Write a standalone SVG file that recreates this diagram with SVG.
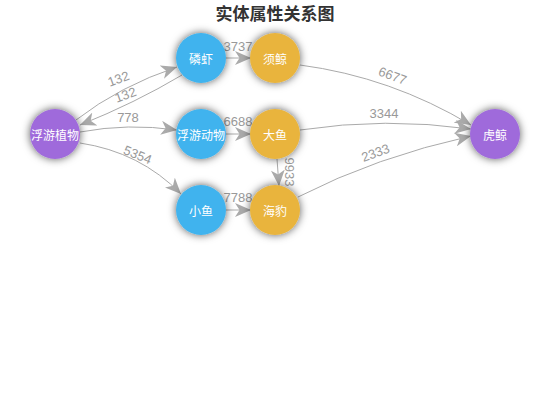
<svg xmlns="http://www.w3.org/2000/svg" width="550" height="420" viewBox="0 0 550 420">
<defs>
<filter id="sh" x="-50%" y="-50%" width="200%" height="200%">
<feDropShadow dx="0" dy="0" stdDeviation="4.5" flood-color="#000" flood-opacity="0.65"/>
</filter>
<marker id="arr" markerUnits="userSpaceOnUse" markerWidth="17" markerHeight="14" refX="16" refY="7" orient="auto">
<path d="M0,0 L16,7 L0,14 L4.5,7 Z" fill="#aaa"/>
</marker>
<style>
.e{fill:none;stroke:#aaa;stroke-width:1;marker-end:url(#arr)}
.el{font-family:"Liberation Sans",Arial,sans-serif;font-size:13px;fill:#999;text-anchor:middle}
.n circle{filter:url(#sh)}
.n text{font-family:"Noto Sans CJK SC",sans-serif;font-size:12px;fill:#fff;text-anchor:middle;dominant-baseline:central}
.b{fill:#40b3ee}.y{fill:#e9b43c}.p{fill:#9f6bdb}
.t{font-family:"Noto Sans CJK SC",sans-serif;font-size:17px;font-weight:bold;fill:#333;text-anchor:middle}
</style>
</defs>
<rect width="550" height="420" fill="#fff"/>
<text class="t" x="275" y="20">实体属性关系图</text>
<g id="edges">
<path class="e" d="M76,120 Q120,86 177,67"/>
<path class="e" d="M182,75 Q135,103 80,125"/>
<path class="e" d="M80,132 Q128,123 177,130"/>
<path class="e" d="M80,143 Q140,152 181,194"/>
<path class="e" d="M226,58 L251,58"/>
<path class="e" d="M226,134 L251,134"/>
<path class="e" d="M226,210 L251,210"/>
<path class="e" d="M277,159 L279,186"/>
<path class="e" d="M300,65 Q391,77 471,125"/>
<path class="e" d="M300,130 Q385,117 471,129"/>
<path class="e" d="M298,197 Q376,157 471,136"/>
<text class="el" transform="translate(120,83) rotate(-20)">132</text>
<text class="el" transform="translate(127,99) rotate(-20)">132</text>
<text class="el" x="128" y="122">778</text>
<text class="el" transform="translate(136,159) rotate(22)">5354</text>
<text class="el" x="238" y="51">3737</text>
<text class="el" x="238" y="126">6688</text>
<text class="el" x="238" y="202">7788</text>
<text class="el" transform="translate(285,172) rotate(90)">9933</text>
<text class="el" transform="translate(391,80) rotate(20)">6677</text>
<text class="el" x="384" y="118">3344</text>
<text class="el" transform="translate(377,157) rotate(-20)">2333</text>
</g>
<g id="n1" class="n"><circle class="p" cx="55" cy="134" r="25"/><text x="55" y="134">浮游植物</text></g>
<g id="n2" class="n"><circle class="b" cx="201" cy="58" r="25"/><text x="201" y="58">磷虾</text></g>
<g id="n3" class="n"><circle class="b" cx="201" cy="134" r="25"/><text x="201" y="134">浮游动物</text></g>
<g id="n4" class="n"><circle class="b" cx="201" cy="210" r="25"/><text x="201" y="210">小鱼</text></g>
<g id="n5" class="n"><circle class="y" cx="275" cy="58" r="25"/><text x="275" y="58">须鲸</text></g>
<g id="n6" class="n"><circle class="y" cx="275" cy="134" r="25"/><text x="275" y="134">大鱼</text></g>
<g id="n7" class="n"><circle class="y" cx="275" cy="210" r="25"/><text x="275" y="210">海豹</text></g>
<g id="n8" class="n"><circle class="p" cx="495" cy="134" r="25"/><text x="495" y="134">虎鲸</text></g>
</svg>
